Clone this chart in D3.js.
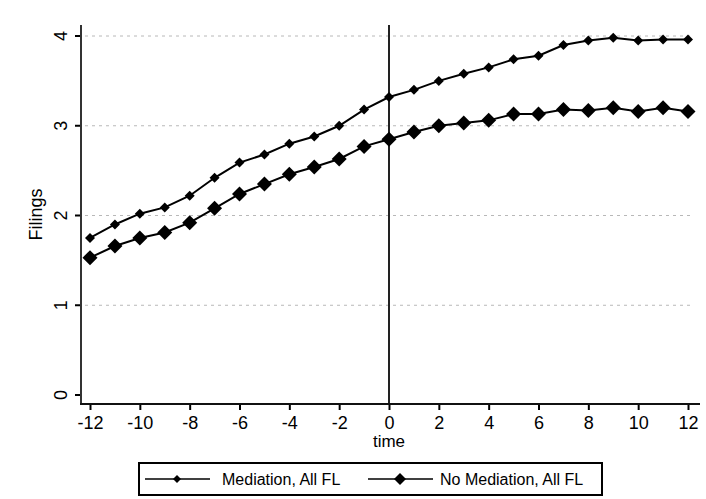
<!DOCTYPE html>
<html lang="en">
  <head>
    <meta charset="UTF-8" />
    <title>Filings over time</title>
    <script src="https://d3js.org/d3.v7.min.js"></script>
    <style>
      body { margin: 0; background: #fff; }
      svg { display: block; font-family: "Liberation Sans", Arial, sans-serif; }
    </style>
  </head>
  <body>
    <script>
      const width = 706;
      const height = 499;

      // data
      const times = [-12, -11, -10, -9, -8, -7, -6, -5, -4, -3, -2, -1, 0, 1, 2, 3, 4, 5, 6, 7, 8, 9, 10, 11, 12];
      const mediation = [1.75, 1.9, 2.02, 2.09, 2.22, 2.42, 2.59, 2.68, 2.8, 2.88, 3.0, 3.18, 3.32,
        3.4, 3.5, 3.58, 3.65, 3.74, 3.78, 3.9, 3.95, 3.98, 3.95, 3.96, 3.96];
      const noMediation = [1.53, 1.66, 1.75, 1.81, 1.92, 2.08, 2.24, 2.35, 2.46, 2.54, 2.63, 2.77, 2.85,
        2.93, 3.0, 3.03, 3.06, 3.13, 3.13, 3.18, 3.17, 3.2, 3.16, 3.2, 3.16];
      const xTicks = [-12, -10, -8, -6, -4, -2, 0, 2, 4, 6, 8, 10, 12];
      const yTicks = [0, 1, 2, 3, 4];
      const seriesNames = ["Mediation, All FL", "No Mediation, All FL"];

      const x = d3.scaleLinear().domain([-12, 12]).range([90, 688]);
      const y = d3.scaleLinear().domain([0, 4]).range([395, 36]);

      const plotLeft = 81, plotRight = 700, plotTop = 25, plotBottom = 404;

      const svg = d3.select("body").append("svg")
        .attr("width", width)
        .attr("height", height);

      // grid lines
      svg.append("g")
        .selectAll("line")
        .data(yTicks.filter((d) => d > 0))
        .join("line")
        .attr("x1", plotLeft + 4)
        .attr("x2", plotRight - 8)
        .attr("y1", (d) => y(d))
        .attr("y2", (d) => y(d))
        .attr("stroke", "#b8b8b8")
        .attr("stroke-width", 1)
        .attr("stroke-dasharray", "3,4");

      // vertical line at time 0
      svg.append("line")
        .attr("x1", x(0)).attr("x2", x(0))
        .attr("y1", plotTop).attr("y2", plotBottom)
        .attr("stroke", "#222")
        .attr("stroke-width", 2);

      // y axis (labels turned on their side, like the original)
      const yAxis = svg.append("g")
        .attr("transform", `translate(${plotLeft},0)`)
        .call(d3.axisLeft(y).tickValues(yTicks).tickSize(6).tickFormat((d) => String(d)));
      yAxis.select(".domain").remove();
      yAxis.selectAll(".tick").attr("transform", null);
      yAxis.selectAll(".tick line")
        .attr("y1", (d) => y(d)).attr("y2", (d) => y(d))
        .attr("stroke", "#000").attr("stroke-width", 2);
      yAxis.selectAll(".tick text")
        .attr("x", -20)
        .attr("y", (d) => y(d))
        .attr("dy", "0.35em")
        .attr("transform", (d) => `rotate(-90, -20, ${y(d)})`)
        .style("text-anchor", "middle")
        .attr("font-size", 18)
        .attr("fill", "#000");
      svg.append("line")
        .attr("x1", plotLeft).attr("x2", plotLeft)
        .attr("y1", plotTop).attr("y2", plotBottom)
        .attr("stroke", "#333").attr("stroke-width", 2);

      // x axis
      const xAxis = svg.append("g")
        .attr("transform", `translate(0,${plotBottom})`)
        .call(d3.axisBottom(x).tickValues(xTicks).tickSize(6).tickPadding(6).tickFormat((d) => String(d)));
      xAxis.select(".domain").remove();
      xAxis.selectAll("line").attr("stroke", "#000").attr("stroke-width", 2);
      xAxis.selectAll("text")
        .attr("font-size", 18)
        .attr("fill", "#000");
      svg.append("line")
        .attr("x1", plotLeft - 1).attr("x2", plotRight)
        .attr("y1", plotBottom).attr("y2", plotBottom)
        .attr("stroke", "#111").attr("stroke-width", 2);

      // axis titles
      svg.append("text")
        .attr("x", x(0))
        .attr("y", 447)
        .attr("text-anchor", "middle")
        .attr("font-size", 17)
        .text("time");
      svg.append("text")
        .attr("transform", `translate(42,${(plotTop + plotBottom) / 2}) rotate(-90)`)
        .attr("text-anchor", "middle")
        .attr("font-size", 18)
        .text("Filings");

      // series
      const diamond = (r) => `M0,${-r}L${r},0L0,${r}L${-r},0Z`;
      const series = [
        { name: seriesNames[0], values: mediation, r: 5 },
        { name: seriesNames[1], values: noMediation, r: 7.5 }
      ];
      const line = d3.line()
        .x((d, i) => x(times[i]))
        .y((d) => y(d));

      series.forEach((s) => {
        svg.append("path")
          .datum(s.values)
          .attr("d", line)
          .attr("fill", "none")
          .attr("stroke", "#000")
          .attr("stroke-width", 2);
        svg.append("g")
          .selectAll("path")
          .data(s.values)
          .join("path")
          .attr("transform", (d, i) => `translate(${x(times[i])},${y(d)})`)
          .attr("d", diamond(s.r))
          .attr("fill", "#000");
      });

      // legend
      const legend = svg.append("g");
      legend.append("rect")
        .attr("x", 139).attr("y", 463)
        .attr("width", 463).attr("height", 32)
        .attr("fill", "#fff")
        .attr("stroke", "#000")
        .attr("stroke-width", 2);
      const legendItems = [
        { name: seriesNames[0], x0: 145, r: 4, tx: 222 },
        { name: seriesNames[1], x0: 368, r: 6, tx: 440 }
      ];
      legendItems.forEach((d) => {
        legend.append("line")
          .attr("x1", d.x0).attr("x2", d.x0 + 65)
          .attr("y1", 479).attr("y2", 479)
          .attr("stroke", "#000").attr("stroke-width", 1.5);
        legend.append("path")
          .attr("transform", `translate(${d.x0 + 32},479)`)
          .attr("d", diamond(d.r))
          .attr("fill", "#000");
        legend.append("text")
          .attr("x", d.tx).attr("y", 485)
          .attr("font-size", 16)
          .text(d.name);
      });
    </script>
  </body>
</html>
